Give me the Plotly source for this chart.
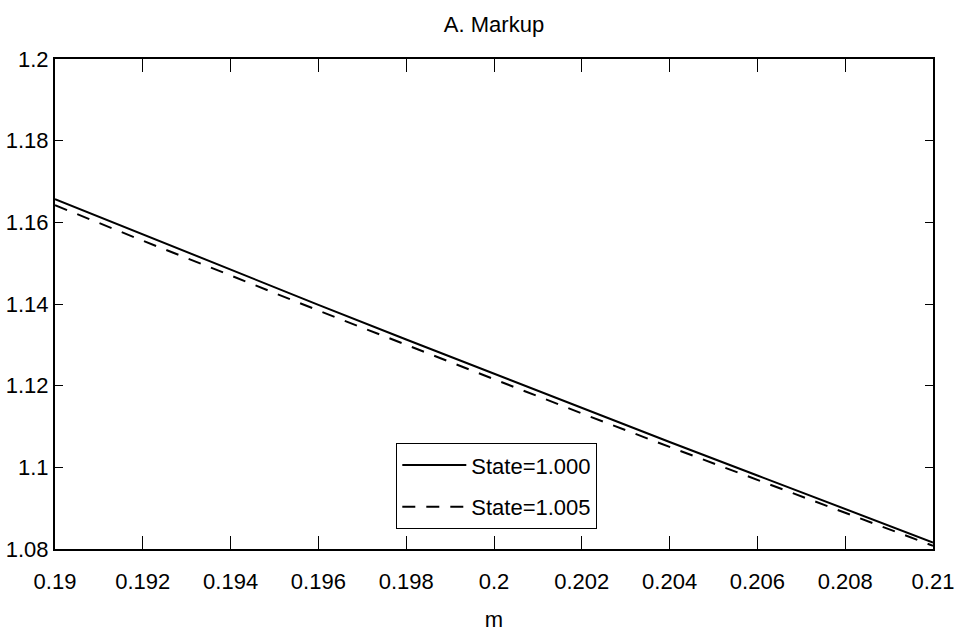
import plotly.graph_objects as go

m_values = [0.190, 0.192, 0.194, 0.196, 0.198, 0.200, 0.202, 0.204, 0.206, 0.208, 0.210]
markup_state_1000 = [1.1657, 1.1570, 1.1484, 1.1398, 1.1313, 1.1229, 1.1145, 1.1062, 1.0980, 1.0898, 1.0816]
markup_state_1005 = [1.1642, 1.1555, 1.1470, 1.1384, 1.1300, 1.1216, 1.1132, 1.1050, 1.0969, 1.0888, 1.0808]
series_names = ["State=1.000", "State=1.005"]
x_ticks = [0.19, 0.192, 0.194, 0.196, 0.198, 0.2, 0.202, 0.204, 0.206, 0.208, 0.21]
x_tick_labels = ["0.19", "0.192", "0.194", "0.196", "0.198", "0.2", "0.202", "0.204", "0.206", "0.208", "0.21"]
y_ticks = [1.08, 1.1, 1.12, 1.14, 1.16, 1.18, 1.2]
y_tick_labels = ["1.08", "1.1", "1.12", "1.14", "1.16", "1.18", "1.2"]

FONT = "Liberation Sans, Arial, sans-serif"
FS = 22

fig = go.Figure()
fig.add_trace(go.Scatter(x=m_values, y=markup_state_1000, mode="lines", name=series_names[0],
                         line=dict(color="black", width=2), legendgroup="a"))
fig.add_trace(go.Scatter(x=m_values, y=markup_state_1005, mode="lines", name=series_names[1],
                         line=dict(color="black", width=2, dash="13px,11px"), legendgroup="b"))

fig.update_layout(
    width=957, height=636,
    margin=dict(l=55, r=24, t=59, b=87, pad=0, autoexpand=False),
    paper_bgcolor="white", plot_bgcolor="white",
    font=dict(family=FONT, size=FS, color="black"),
    title=dict(text="A. Markup", x=0.5, xref="paper", xanchor="center",
               y=1 - 24 / 636, yref="container", yanchor="middle",
               font=dict(family=FONT, size=FS, color="black")),
    legend=dict(x=(396 - 55) / 878, y=(549 - 443) / 490, xanchor="left", yanchor="top",
                bgcolor="white", bordercolor="black", borderwidth=1.3,
                font=dict(family=FONT, size=FS, color="black"),
                tracegroupgap=10, itemwidth=64, traceorder="grouped"),
    xaxis=dict(range=[0.19, 0.21 + 1e-9], tickvals=x_ticks, ticktext=x_tick_labels,
               automargin=False,
               showgrid=False, zeroline=False, showline=True, linecolor="black", linewidth=2,
               mirror="ticks", ticks="inside", ticklen=13, tickwidth=1, tickcolor="black",
               ticklabelstandoff=12,
               title=dict(text="m", standoff=18, font=dict(family=FONT, size=FS))),
    yaxis=dict(range=[1.08, 1.2], tickvals=y_ticks, ticktext=y_tick_labels,
               automargin=False,
               showgrid=False, zeroline=False, showline=True, linecolor="black", linewidth=2,
               mirror="ticks", ticks="inside", ticklen=8, tickwidth=1, tickcolor="black",
               ticklabelstandoff=0),
)

fig.write_html("out.html")
